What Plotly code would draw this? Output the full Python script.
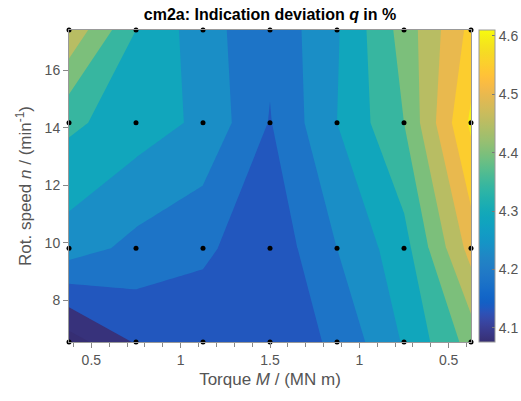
import plotly.graph_objects as go

# ---------------- data ----------------
torque_pos = [0.375, 0.75, 1.125, 1.5, 1.875, 2.25, 2.625]   # measurement path position (torque up, then down)
speed = [6.54, 9.8, 14.17, 17.4]                                # rot. speed n / min^-1
q_row_n1 = [4.076, 4.155, 4.165, 4.165, 4.21, 4.305, 4.42]
q_row_n2 = [4.275, 4.235, 4.21, 4.165, 4.25, 4.33, 4.52]
q_row_n3 = [4.36, 4.325, 4.29, 4.197, 4.30, 4.40, 4.61]
q_row_n4 = [4.49, 4.35, 4.272, 4.21, 4.295, 4.42, 4.565]
q = [q_row_n1, q_row_n2, q_row_n3, q_row_n4]

x_tick_pos = [0.5, 1.0, 1.5, 2.0, 2.5]
x_tick_text = ["0.5", "1", "1.5", "1", "0.5"]
y_tick_pos = [8, 10, 12, 14, 16]
cb_ticks = [4.1, 4.2, 4.3, 4.4, 4.5, 4.6]
level_start, level_end, level_step = 4.1, 4.6, 0.05
zmin, zmax = 4.076, 4.61

# ---------------- parula colormap ----------------
parula = [[0.2081,0.1663,0.5292],[0.2116,0.1898,0.5777],[0.2123,0.2138,0.6270],[0.2081,0.2386,0.6771],
[0.1959,0.2645,0.7279],[0.1707,0.2919,0.7792],[0.1253,0.3242,0.8303],[0.0591,0.3598,0.8683],
[0.0117,0.3875,0.8820],[0.0060,0.4086,0.8828],[0.0165,0.4266,0.8786],[0.0329,0.4430,0.8720],
[0.0498,0.4586,0.8641],[0.0629,0.4737,0.8554],[0.0723,0.4887,0.8467],[0.0779,0.5040,0.8384],
[0.0793,0.5200,0.8312],[0.0749,0.5375,0.8263],[0.0641,0.5570,0.8240],[0.0488,0.5772,0.8228],
[0.0343,0.5966,0.8199],[0.0265,0.6137,0.8135],[0.0239,0.6287,0.8038],[0.0231,0.6418,0.7913],
[0.0228,0.6535,0.7768],[0.0267,0.6642,0.7607],[0.0384,0.6743,0.7436],[0.0590,0.6838,0.7254],
[0.0843,0.6928,0.7062],[0.1133,0.7015,0.6859],[0.1453,0.7098,0.6646],[0.1801,0.7177,0.6424],
[0.2178,0.7250,0.6193],[0.2586,0.7317,0.5954],[0.3022,0.7376,0.5712],[0.3482,0.7424,0.5473],
[0.3953,0.7459,0.5244],[0.4420,0.7481,0.5033],[0.4871,0.7491,0.4840],[0.5300,0.7491,0.4661],
[0.5709,0.7485,0.4494],[0.6099,0.7473,0.4337],[0.6473,0.7456,0.4188],[0.6834,0.7435,0.4044],
[0.7184,0.7411,0.3905],[0.7525,0.7384,0.3768],[0.7858,0.7356,0.3633],[0.8185,0.7327,0.3498],
[0.8507,0.7299,0.3360],[0.8824,0.7274,0.3217],[0.9139,0.7258,0.3063],[0.9450,0.7261,0.2886],
[0.9739,0.7314,0.2666],[0.9938,0.7455,0.2403],[0.9990,0.7653,0.2164],[0.9955,0.7861,0.1967],
[0.9880,0.8066,0.1794],[0.9789,0.8271,0.1633],[0.9697,0.8481,0.1475],[0.9626,0.8705,0.1309],
[0.9589,0.8949,0.1132],[0.9598,0.9218,0.0948],[0.9661,0.9514,0.0755],[0.9763,0.9831,0.0538]]


def par(f):
    f = min(max(f, 0.0), 1.0)
    p = f * (len(parula) - 1)
    i = int(p)
    if i >= len(parula) - 1:
        c = parula[-1]
    else:
        t = p - i
        c = [parula[i][k] * (1 - t) + parula[i + 1][k] * t for k in range(3)]
    # slightly muted, like the printed/scanned original (stronger on the blue end)
    lum = 0.299 * c[0] + 0.587 * c[1] + 0.114 * c[2]
    w = max(0.0, 0.25 * (1 - f / 0.6))
    c = [v * (1 - w) + lum * w for v in c]
    return "rgb(%d,%d,%d)" % tuple(round(min(max(v, 0), 1) * 255) for v in c)


parula_cs = [[i / (len(parula) - 1), par(i / (len(parula) - 1))] for i in range(len(parula))]


def band_value(level):
    # colour sample for a filled band (lower level, nudged to match the printed tones)
    shift = 0.018 * min(max((4.42 - level) / 0.2, 0.0), 1.0)
    return level - shift


n_lev = int(round((level_end - level_start) / level_step)) + 1
nc = n_lev
band_cols = [par(0.0)] + [par((band_value(level_start + k * level_step) - zmin) / (zmax - zmin))
                          for k in range(n_lev)]
fill_cs = []
for j, col in enumerate(band_cols):
    lo = max(0.0, (j - 0.5) / nc)
    hi = min(1.0, (j + 0.5) / nc)
    fill_cs.append([lo, col])
    fill_cs.append([hi, col])

minor_vals = [round(0.4 + 0.1 * i, 1) for i in range(23)]
minor_vals = [v for v in minor_vals if all(abs(v - t) > 1e-6 for t in x_tick_pos)]

grid_x = [xv for _ in speed for xv in torque_pos]
grid_y = [yv for yv in speed for _ in torque_pos]

fig = go.Figure()
fig.add_trace(go.Contour(
    x=torque_pos, y=speed, z=q,
    contours=dict(start=level_start, end=level_end, size=level_step, coloring="fill", showlines=False),
    line=dict(width=0, smoothing=0),
    colorscale=fill_cs, showscale=False, hoverinfo="skip",
))
fig.add_trace(go.Scatter(
    x=grid_x, y=grid_y, mode="markers",
    marker=dict(color="black", size=5),
    cliponaxis=False, showlegend=False, hoverinfo="skip",
))
fig.add_trace(go.Scatter(
    x=[torque_pos[0], torque_pos[0]], y=[speed[0], speed[0]], mode="markers",
    marker=dict(size=1, opacity=0, color=[zmin, zmax], colorscale=parula_cs, cmin=zmin, cmax=zmax,
                showscale=True,
                colorbar=dict(x=(479 - 69) / 402, xanchor="left", xpad=0, y=0.5, yanchor="middle",
                              len=1, lenmode="fraction", thickness=16, ypad=0,
                              tickvals=cb_ticks, ticktext=[str(t) for t in cb_ticks],
                              ticks="inside", ticklen=3, tickcolor="#777",
                              outlinecolor="#999", outlinewidth=1,
                              tickfont=dict(family="Liberation Sans, Arial", size=14, color="#555"))),
    showlegend=False, hoverinfo="skip",
))

fig.update_layout(
    width=521, height=401,
    margin=dict(l=69, r=50, t=30, b=59, autoexpand=False),
    paper_bgcolor="white", plot_bgcolor="white",
    title=dict(text="<b>cm2a: Indication deviation <i>q</i> in %</b>", x=0.5, xref="paper",
               y=1 - 14 / 401, yref="container", yanchor="middle", xanchor="center",
               font=dict(family="Liberation Sans, Arial", size=16, color="black")),
    font=dict(family="Liberation Sans, Arial", color="#555"),
    showlegend=False,
)
fig.update_xaxes(
    range=[torque_pos[0], torque_pos[-1]], tickmode="array", tickvals=x_tick_pos, ticktext=x_tick_text,
    ticks="outside", ticklen=5, tickcolor="#888", showgrid=False, zeroline=False,
    showline=True, linecolor="#999", mirror=True,
    minor=dict(tickmode="array", tickvals=minor_vals, ticks="outside", ticklen=4, tickcolor="#888"),
    tickfont=dict(size=14, color="#555"),
    title=dict(text="Torque <i>M</i> / (MN m)", font=dict(size=17, color="#555"), standoff=6),
)
fig.update_yaxes(
    range=[speed[0], speed[-1]], tickmode="array", tickvals=y_tick_pos,
    ticks="outside", ticklen=5, tickcolor="#888", showgrid=False, zeroline=False,
    showline=True, linecolor="#999", mirror=True,
    tickfont=dict(size=14, color="#555"),
    title=dict(text="Rot. speed <i>n</i> / (min<sup>-1</sup>)", font=dict(size=17, color="#555"), standoff=8),
)

fig.write_html("out.html", config={"displayModeBar": False, "staticPlot": True},
               post_script="document.body.style.margin='0px';document.body.style.overflow='hidden';")
